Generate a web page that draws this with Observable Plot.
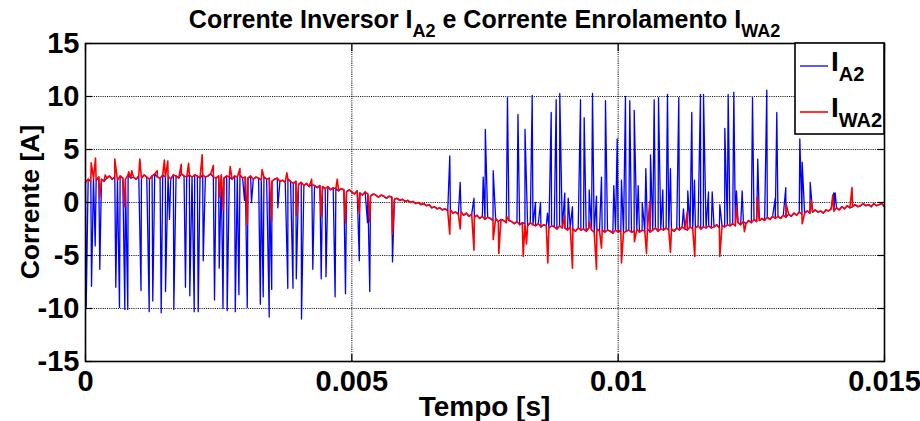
<!DOCTYPE html>
<html>
<head>
<meta charset="utf-8">
<script src="https://cdn.jsdelivr.net/npm/d3@7"></script>
<script src="https://cdn.jsdelivr.net/npm/@observablehq/plot@0.6"></script>
<style>
  body { margin: 0; background: #fff; }
  #grafico svg { display: block; }
</style>
</head>
<body>
<div id="grafico"></div>
<script>
// Amostragem da corrente de base (comum às duas curvas), passo de 0,05 ms
const passoMs = 0.05;
const correnteBase = [
  1.9, 2.2, 2.0, 2.3, 2.1, 2.4, 2.2, 2.0, 2.3, 2.5, 2.2, 2.4, 2.1, 2.5, 2.3, 2.2, 2.6, 2.3, 2.4, 2.2,
  2.5, 2.3, 2.6, 2.4, 2.2, 2.5, 2.7, 2.4, 2.3, 2.6, 2.4, 2.5, 2.2, 2.6, 2.5, 2.3, 2.7, 2.5, 2.4, 2.6,
  2.4, 2.6, 2.5, 2.3, 2.6, 2.4, 2.5, 2.7, 2.4, 2.3, 2.5, 2.6, 2.3, 2.5, 2.4, 2.2, 2.5, 2.4, 2.6, 2.3,
  2.4, 2.3, 2.5, 2.2, 2.4, 2.3, 2.1, 2.4, 2.2, 2.3, 2.0, 2.2, 2.3, 2.0, 2.1, 1.9, 2.2, 2.0, 1.8, 2.0,
  1.7, 1.9, 1.6, 1.8, 1.5, 1.7, 1.6, 1.4, 1.6, 1.5, 1.3, 1.5, 1.2, 1.4, 1.3, 1.1, 1.3, 1.2, 1.0, 1.2,
  1.0, 0.8, 1.1, 0.9, 0.7, 1.0, 0.8, 0.6, 0.8, 0.7, 0.5, 0.7, 0.6, 0.4, 0.6, 0.5, 0.3, 0.4, 0.2, 0.3,
  0.1, 0.2, 0.0, 0.1, -0.1, 0.0, -0.2, -0.1, -0.3, -0.2, -0.5, -0.4, -0.6, -0.5, -0.7, -0.6, -0.8, -0.7, -1.0, -0.9,
  -1.1, -0.9, -1.2, -1.0, -1.3, -1.1, -1.4, -1.2, -1.5, -1.3, -1.6, -1.4, -1.5, -1.7, -1.5, -1.8, -1.6, -1.7, -1.9, -1.7,
  -1.8, -2.0, -1.8, -2.1, -1.9, -2.0, -2.2, -1.9, -2.1, -2.2, -2.0, -2.3, -2.1, -2.2, -2.4, -2.2, -2.3, -2.5, -2.2, -2.4,
  -2.4, -2.6, -2.3, -2.5, -2.7, -2.4, -2.6, -2.5, -2.7, -2.4, -2.6, -2.8, -2.5, -2.7, -2.6, -2.8, -2.6, -2.7, -2.9, -2.6,
  -2.8, -2.6, -2.9, -2.7, -2.6, -2.8, -2.7, -2.5, -2.8, -2.6, -2.7, -2.5, -2.8, -2.6, -2.4, -2.7, -2.5, -2.6, -2.4, -2.6,
  -2.5, -2.7, -2.4, -2.6, -2.3, -2.5, -2.6, -2.3, -2.5, -2.4, -2.2, -2.5, -2.3, -2.4, -2.2, -2.4, -2.3, -2.1, -2.4, -2.2,
  -2.3, -2.1, -2.2, -2.0, -2.2, -1.9, -2.1, -1.8, -2.0, -1.7, -1.9, -1.6, -1.8, -1.7, -1.5, -1.7, -1.4, -1.6, -1.3, -1.5,
  -1.3, -1.5, -1.2, -1.4, -1.1, -1.3, -1.0, -1.2, -0.9, -1.1, -1.0, -0.8, -1.0, -0.9, -0.7, -0.9, -0.8, -1.0, -0.7, -0.8,
  -0.6, -0.8, -0.5, -0.7, -0.4, -0.6, -0.3, -0.5, -0.4, -0.2, -0.4, -0.3, -0.1, -0.3, -0.2, -0.4, -0.1, -0.3, -0.2, -0.1,
  -0.4
];

// Picos de comutação da corrente do inversor I_A2 (instante em ms, valor em A)
const picosIA2Ms = [
  0.013, 0.113, 0.182, 0.268, 0.569, 0.638, 0.738, 0.794, 1.042, 1.196, 1.263, 1.421, 1.502, 1.577, 1.658,
  1.877, 1.958, 2.041, 2.116, 2.210, 2.422, 2.510, 2.581, 2.660, 2.812, 2.880, 2.985, 3.037, 3.116, 3.282,
  3.336, 3.449, 3.496, 3.610, 3.798, 3.895, 3.957, 4.055, 4.267, 4.425, 4.515, 4.686, 4.881, 5.140, 5.294,
  5.337, 5.763,
  6.839, 7.034, 7.293, 7.466, 7.506, 7.654, 7.922, 8.119, 8.251, 8.386, 8.448, 8.542, 8.673, 8.743, 8.836,
  8.904, 8.998, 9.062, 9.142, 9.293, 9.362, 9.456, 9.518, 9.593, 9.687, 9.762, 9.918, 9.982, 10.062, 10.137,
  10.218, 10.301, 10.376, 10.451, 10.519, 10.607, 10.676, 10.757, 10.838, 10.926, 10.982, 11.138, 11.226,
  11.307, 11.382, 11.433, 11.545, 11.602, 11.696, 11.765, 11.908, 12.002, 12.065, 12.171, 12.221, 12.328,
  12.522, 12.621, 12.790, 12.948, 12.978, 13.147, 13.410, 13.455, 13.605, 14.048, 14.074
];
const picosIA2 = [
  -9.9, -7.9, -4.1, -6.3, -8.0, -9.9, -10.1, -10.1, -8.3, -10.3, -9.3, -10.4, -8.4, -1.6, -10.1,
  -8.0, -8.8, -10.3, -10.3, -5.5, -9.2, -6.2, -10.0, -10.2, -10.3, -8.7, 0.2, -9.9, 0.0, -9.6,
  -8.9, -10.8, -8.2, -0.5, -8.1, -8.1, -7.2, -11.0, -6.3, -7.2, -7.0, -8.9, -8.6, -5.5, -1.9,
  -8.4, -5.6,
  4.4, 1.9, 0.4, 2.4, 6.9, 3.0, 9.9, 8.3, 6.9, 10.1, 0.0, 0.0, -1.0, 8.5, 9.7,
  10.3, 0.9, 0.4, -0.4, 9.7, 8.0, 1.2, 10.3, 0.6, 2.4, 9.6, 1.6, 6.0, 2.1, 10.0,
  9.6, 8.7, 1.6, 0.0, 3.2, 4.5, 9.7, 9.9, 1.2, 10.2, 3.2, 9.9, -0.6,
  1.1, 8.5, 2.1, 10.2, 10.2, 1.0, 1.0, -0.2, 7.0, 10.2, 10.4, 1.1, 1.1,
  9.9, 4.1, 10.6, 0.4, 8.5, 1.4, 6.0, 3.8, 1.9, 0.9, 0.9
];

// Picos e vales da corrente do enrolamento I_WA2 (instante em ms, valor em A)
const picosIWA2Ms = [
  0.107, 0.188, 0.268, 0.370, 0.550, 0.738, 0.810, 0.869, 1.020, 1.346, 1.480, 1.545, 1.797, 1.935, 2.190,
  2.400, 2.510, 2.585, 2.716, 2.900, 3.037, 3.315, 3.496, 3.780, 3.957, 4.245, 4.425, 4.727, 4.881, 5.140,
  5.337, 5.763,
  6.839, 7.034, 7.293, 7.654, 7.759, 7.903, 8.217, 8.279, 8.679, 8.998, 9.142, 9.456, 9.593, 9.687, 10.062,
  10.306, 10.532, 10.594, 10.982, 11.296, 11.438, 11.908, 12.221, 12.371, 12.610, 13.154, 13.455, 13.624,
  14.029, 14.390
];
const picosIWA2 = [
  3.75, 4.2, 0.5, 2.6, 4.1, -0.4, 2.9, 3.0, 4.1, 3.0, 4.0, 3.9, 3.6, 3.7, 4.5,
  3.5, 0.5, -0.7, 3.4, 3.2, -2.1, 3.1, -1.7, 2.8, -1.2, 2.2, -1.3, 2.2, -1.9, -1.0,
  -1.8, -3.0,
  -3.0, -2.5, -4.5, -3.5, -4.8, -1.3, -5.1, -3.9, -5.7, -1.3, -6.2, -1.8, -6.3, -4.3, -5.7,
  -3.7, -4.8, 0.1, -4.7, -0.9, -5.1, -5.1, -0.3, -2.75, 0.5, -0.15, -2.0, 0.2,
  0.7, 1.4
];

// Eixos
const ticksTempo = [0, 0.005, 0.01, 0.015];
const rotulosTempo = ["0", "0.005", "0.01", "0.015"];
const ticksCorrente = [-15, -10, -5, 0, 5, 10, 15];
const rotulosCorrente = ["-15", "-10", "-5", "0", "5", "10", "15"];

// Monta uma série: amostras de base + picos, ordenadas no tempo (s)
function montaSerie(instantesMs, valores) {
  const pontos = correnteBase.map((v, i) => ({ t: (i * passoMs) / 1000, v }));
  instantesMs.forEach((ms, j) => pontos.push({ t: ms / 1000, v: valores[j] }));
  return pontos.sort((a, b) => a.t - b.t);
}
const serieIA2 = montaSerie(picosIA2Ms, picosIA2);
const serieIWA2 = montaSerie(picosIWA2Ms, picosIWA2);

const fonte = `"Liberation Sans Narrow", "Arial Narrow", "Liberation Sans", sans-serif`;
const grade = { stroke: "#000", strokeWidth: 1.1, strokeDasharray: "1.1,1.1", strokeOpacity: 0.9 };

const grafico = Plot.plot({
  width: 920,
  height: 421,
  marginLeft: 85,
  marginRight: 36,
  marginTop: 43,
  marginBottom: 60,
  style: { fontFamily: fonte, fontWeight: "bold", fontSize: "29px", color: "#000", background: "#fff", overflow: "visible" },
  x: { domain: [0, 0.015] },
  y: { domain: [-15, 15] },
  marks: [
    Plot.ruleX(ticksTempo.slice(1, -1), grade),
    Plot.ruleY(ticksCorrente.slice(1, -1), grade),
    Plot.line(serieIA2, { x: "t", y: "v", stroke: "#0000ff", strokeWidth: 1.3 }),
    Plot.line(serieIWA2, { x: "t", y: "v", stroke: "#ff0000", strokeWidth: 1.6 }),
    Plot.axisX(ticksTempo, { anchor: "bottom", tickSize: 0, tickPadding: 9, label: null,
      tickFormat: d => rotulosTempo[ticksTempo.indexOf(d)] }),
    Plot.axisY(ticksCorrente, { anchor: "left", tickSize: 0, tickPadding: 6, label: null,
      tickFormat: d => rotulosCorrente[ticksCorrente.indexOf(d)] }),
    Plot.axisX(ticksTempo, { anchor: "bottom", tickSize: -7, text: null, label: null, strokeWidth: 1.2 }),
    Plot.axisX(ticksTempo, { anchor: "top", tickSize: -7, text: null, label: null, strokeWidth: 1.2 }),
    Plot.axisY(ticksCorrente, { anchor: "left", tickSize: -7, text: null, label: null, strokeWidth: 1.2 }),
    Plot.axisY(ticksCorrente, { anchor: "right", tickSize: -7, text: null, label: null, strokeWidth: 1.2 }),
    Plot.frame({ stroke: "#000", strokeWidth: 1.6 })
  ]
});

// Título, rótulos dos eixos e legenda com subscritos
const svg = d3.select(grafico);
const xEsc = grafico.scale("x"), yEsc = grafico.scale("y");
const [xa, xb] = xEsc.range;
const [ya, yb] = yEsc.range; // ya = base, yb = topo
const xMeio = (xa + xb) / 2;

// Texto com partes em subscrito: [texto, subscrito?]
function textoSub(g, partes, attrs, tamSub, desce) {
  const t = g.append("text").attr("font-family", fonte).attr("font-weight", "bold").attr("fill", "#000");
  Object.entries(attrs).forEach(([k, v]) => t.attr(k, v));
  let nivel = 0;
  partes.forEach(([s, sub]) => {
    const alvo = sub ? desce : 0;
    const ts = t.append("tspan").attr("dy", alvo - nivel).text(s);
    if (sub) ts.attr("font-size", tamSub);
    nivel = alvo;
  });
  return t;
}

const sobre = svg.append("g");
textoSub(sobre, [["Corrente Inversor I"], ["A2", true], [" e Corrente Enrolamento I"], ["WA2", true]],
  { x: xMeio, y: yb - 15, "text-anchor": "middle", "font-size": 25 }, 18, 9);
sobre.append("text").attr("x", xMeio).attr("y", ya + 55).attr("text-anchor", "middle")
  .attr("font-family", fonte).attr("font-weight", "bold").attr("font-size", 28).text("Tempo [s]");
sobre.append("text").attr("transform", `translate(${xa - 46},${(ya + yb) / 2}) rotate(-90)`)
  .attr("text-anchor", "middle").attr("font-family", fonte).attr("font-weight", "bold").attr("font-size", 26.5)
  .text("Corrente [A]");

// Legenda
const leg = svg.append("g");
const lx = xb - 89, ly = yb;
leg.append("rect").attr("x", lx).attr("y", ly).attr("width", 89).attr("height", 91)
  .attr("fill", "#fff").attr("stroke", "#000").attr("stroke-width", 1.6);
const itens = [["A2", "#0000ff", 1.3], ["WA2", "#ff0000", 1.6]];
itens.forEach(([sub, cor, esp], i) => {
  const yl = ly + 23 + i * 46;
  leg.append("line").attr("x1", lx + 5).attr("x2", lx + 33).attr("y1", yl).attr("y2", yl)
    .attr("stroke", cor).attr("stroke-width", esp);
  textoSub(leg, [["I"], [sub, true]], { x: lx + 36, y: yl + 5, "text-anchor": "start", "font-size": 28 }, 20, 10);
});

document.getElementById("grafico").appendChild(grafico);
</script>
</body>
</html>
